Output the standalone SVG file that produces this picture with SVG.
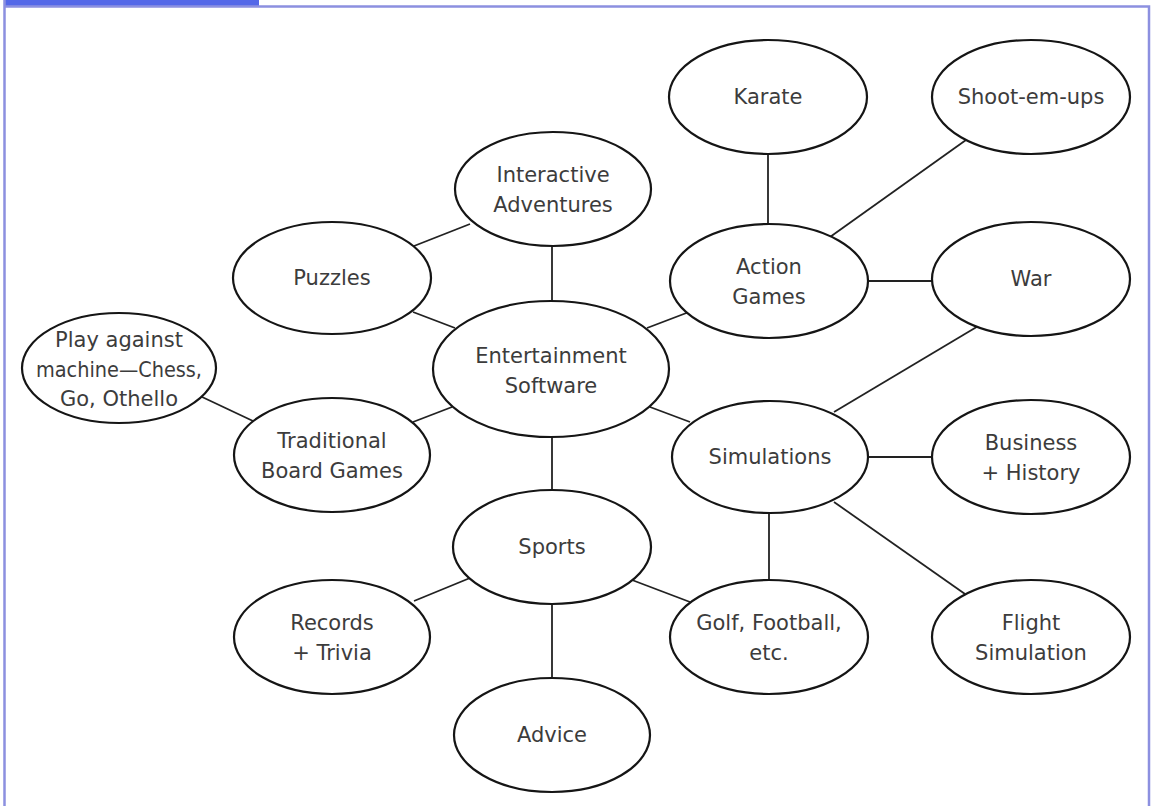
<svg xmlns="http://www.w3.org/2000/svg" width="1153" height="806" viewBox="0 0 1153 806">
<style>
  .node ellipse { fill: #ffffff; stroke: #151515; stroke-width: 2.2; }
  .node text { font-family: "DejaVu Sans", "Liberation Sans", sans-serif; font-size: 21px; fill: #3c3c3c; text-anchor: middle; }
  #connectors line { stroke: #222222; stroke-width: 1.8; }
  .frame { fill: none; stroke: #8c90e0; stroke-width: 2.5; }
</style>
<rect x="0" y="0" width="1153" height="806" fill="#ffffff"/>
<rect x="4" y="0" width="255" height="7" fill="#5468e8"/>
<path class="frame" d="M4.5 0 V806 M4.5 6.5 H1149 V806"/>
<g id="connectors">
  <line x1="768" y1="155" x2="768" y2="224"/>
  <line x1="966" y1="140" x2="830" y2="237"/>
  <line x1="470" y1="224" x2="414" y2="246"/>
  <line x1="552" y1="246" x2="552" y2="301"/>
  <line x1="413" y1="312" x2="455" y2="328"/>
  <line x1="689" y1="312" x2="647" y2="328"/>
  <line x1="868" y1="281" x2="932" y2="281"/>
  <line x1="985" y1="322" x2="834" y2="412"/>
  <line x1="200" y1="396" x2="253" y2="421"/>
  <line x1="413" y1="422" x2="452" y2="407"/>
  <line x1="650" y1="407" x2="690" y2="422"/>
  <line x1="552" y1="437" x2="552" y2="490"/>
  <line x1="868" y1="457" x2="932" y2="457"/>
  <line x1="769" y1="513" x2="769" y2="580"/>
  <line x1="834" y1="502" x2="965" y2="594"/>
  <line x1="470" y1="578" x2="414" y2="601"/>
  <line x1="632" y1="580" x2="690" y2="602"/>
  <line x1="552" y1="604" x2="552" y2="678"/>
</g>
<g id="karate" class="node"><ellipse cx="768" cy="97" rx="99" ry="57"/><text x="768" y="104">Karate</text></g>
<g id="shootemups" class="node"><ellipse cx="1031" cy="97" rx="99" ry="57"/><text x="1031" y="104">Shoot-em-ups</text></g>
<g id="interactive" class="node"><ellipse cx="553" cy="189" rx="98" ry="57"/><text x="553" y="182">Interactive</text><text x="553" y="212">Adventures</text></g>
<g id="puzzles" class="node"><ellipse cx="332" cy="278" rx="99" ry="56"/><text x="332" y="285">Puzzles</text></g>
<g id="action" class="node"><ellipse cx="769" cy="281" rx="99" ry="57"/><text x="769" y="274">Action</text><text x="769" y="304">Games</text></g>
<g id="war" class="node"><ellipse cx="1031" cy="279" rx="99" ry="57"/><text x="1031" y="286">War</text></g>
<g id="play" class="node"><ellipse cx="119" cy="368" rx="97" ry="55"/><text x="119" y="347">Play against</text><text x="119" y="377" textLength="166" lengthAdjust="spacingAndGlyphs">machine—Chess,</text><text x="119" y="406">Go, Othello</text></g>
<g id="entertainment" class="node"><ellipse cx="551" cy="369" rx="118" ry="68"/><text x="551" y="363">Entertainment</text><text x="551" y="393">Software</text></g>
<g id="traditional" class="node"><ellipse cx="332" cy="455" rx="98" ry="57"/><text x="332" y="448">Traditional</text><text x="332" y="478">Board Games</text></g>
<g id="simulations" class="node"><ellipse cx="770" cy="457" rx="98" ry="56"/><text x="770" y="464">Simulations</text></g>
<g id="business" class="node"><ellipse cx="1031" cy="457" rx="99" ry="57"/><text x="1031" y="450">Business</text><text x="1031" y="480">+ History</text></g>
<g id="sports" class="node"><ellipse cx="552" cy="547" rx="99" ry="57"/><text x="552" y="554">Sports</text></g>
<g id="records" class="node"><ellipse cx="332" cy="637" rx="98" ry="57"/><text x="332" y="630">Records</text><text x="332" y="660">+ Trivia</text></g>
<g id="golf" class="node"><ellipse cx="769" cy="637" rx="99" ry="57"/><text x="769" y="630">Golf, Football,</text><text x="769" y="660">etc.</text></g>
<g id="flight" class="node"><ellipse cx="1031" cy="637" rx="99" ry="57"/><text x="1031" y="630">Flight</text><text x="1031" y="660">Simulation</text></g>
<g id="advice" class="node"><ellipse cx="552" cy="735" rx="98" ry="57"/><text x="552" y="742">Advice</text></g>
</svg>
